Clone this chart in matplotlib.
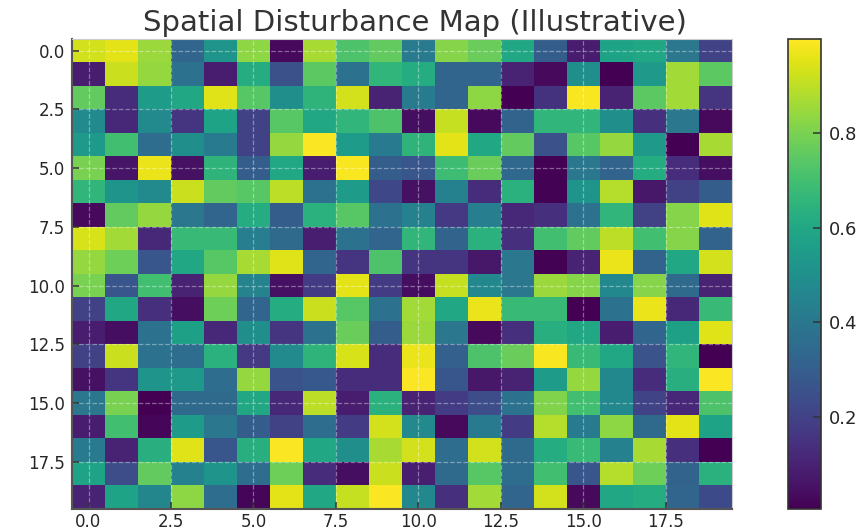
import matplotlib
matplotlib.use("Agg")
import matplotlib.pyplot as plt
import numpy as np

title = "Spatial Disturbance Map (Illustrative)"
row00 = [.93,.96,.85,.33,.52,.83,.03,.87,.72,.76,.42,.82,.77,.60,.30,.08,.58,.60,.40,.20]
row01 = [.08,.92,.84,.38,.08,.62,.25,.75,.38,.66,.62,.33,.33,.10,.03,.50,.00,.54,.86,.75]
row02 = [.76,.13,.55,.60,.95,.74,.50,.65,.93,.10,.42,.33,.83,.00,.15,.99,.10,.75,.86,.16]
row03 = [.48,.12,.48,.16,.58,.20,.74,.60,.66,.72,.04,.91,.03,.32,.66,.66,.50,.14,.40,.03]
row04 = [.54,.70,.36,.50,.42,.20,.84,.995,.55,.42,.65,.96,.60,.76,.25,.74,.84,.54,.00,.87]
row05 = [.80,.06,.97,.05,.65,.30,.60,.08,.99,.30,.27,.69,.77,.34,.01,.40,.32,.62,.13,.04]
row06 = [.66,.52,.48,.92,.76,.74,.90,.38,.55,.22,.05,.44,.13,.64,.01,.52,.89,.07,.20,.30]
row07 = [.03,.76,.84,.40,.33,.62,.30,.64,.74,.38,.44,.17,.43,.12,.14,.38,.66,.20,.82,.95]
row08 = [.94,.86,.12,.68,.68,.43,.35,.09,.38,.33,.66,.32,.64,.14,.70,.76,.90,.70,.82,.32]
row09 = [.84,.78,.27,.60,.74,.87,.95,.33,.16,.72,.16,.16,.07,.40,.01,.10,.97,.32,.60,.93]
row10 = [.80,.27,.70,.10,.84,.45,.05,.18,.96,.18,.04,.91,.47,.40,.85,.82,.47,.82,.35,.10]
row11 = [.20,.60,.14,.04,.78,.33,.62,.92,.74,.38,.86,.60,.97,.68,.68,.00,.38,.97,.12,.68]
row12 = [.08,.04,.38,.57,.12,.50,.16,.38,.77,.30,.85,.40,.03,.14,.63,.60,.08,.33,.57,.95]
row13 = [.20,.92,.38,.36,.64,.17,.48,.65,.94,.13,.97,.31,.72,.77,.99,.68,.60,.26,.66,.00]
row14 = [.05,.16,.52,.54,.36,.84,.26,.28,.13,.13,.995,.27,.07,.10,.55,.84,.47,.13,.63,.995]
row15 = [.40,.80,.00,.35,.35,.60,.12,.90,.08,.64,.10,.18,.24,.38,.81,.70,.47,.21,.12,.72]
row16 = [.08,.70,.02,.55,.40,.30,.20,.36,.18,.93,.48,.03,.42,.18,.89,.42,.83,.35,.96,.58]
row17 = [.42,.10,.63,.95,.27,.63,.995,.60,.50,.87,.93,.36,.93,.35,.62,.68,.44,.87,.14,.00]
row18 = [.58,.24,.76,.44,.52,.36,.78,.13,.04,.92,.09,.35,.74,.36,.70,.27,.89,.78,.32,.64]
row19 = [.10,.58,.46,.83,.36,.02,.96,.60,.91,.995,.47,.14,.86,.33,.93,.03,.60,.62,.33,.23]
rows = [row00,row01,row02,row03,row04,row05,row06,row07,row08,row09,
        row10,row11,row12,row13,row14,row15,row16,row17,row18,row19]
x_ticks = [0, 2.5, 5, 7.5, 10, 12.5, 15, 17.5]
y_ticks = [0, 2.5, 5, 7.5, 10, 12.5, 15, 17.5]
cbar_ticks = [0.2, 0.4, 0.6, 0.8]

W, H = 865, 531
fig = plt.figure(figsize=(W/100, H/100), dpi=100)
def box(x0, y0, x1, y1):
    return [x0/W, 1-y1/H, (x1-x0)/W, (y1-y0)/H]

text_c = "#262626"
ax = fig.add_axes(box(72, 39, 732, 509))
im = ax.imshow(np.array(rows), cmap="viridis", vmin=0.005, vmax=0.999,
               aspect="auto", interpolation="nearest")
ax.set_xticks(x_ticks)
ax.set_yticks(y_ticks)
ax.set_xticklabels([f"{v:.1f}" for v in x_ticks])
ax.set_yticklabels([f"{v:.1f}" for v in y_ticks])
ax.tick_params(labelsize=12, direction="in", length=5, width=1.1, color="#333333",
               labelcolor=text_c)
ax.tick_params(axis="x", pad=3)
ax.tick_params(axis="y", pad=5)
ax.grid(True, color="white", alpha=0.38, linestyle="--", linewidth=0.9)
for s in ("left", "bottom"):
    ax.spines[s].set_color("#555555")
    ax.spines[s].set_linewidth(1.5)
for s in ("top", "right"):
    ax.spines[s].set_color("#cccccc")
    ax.spines[s].set_linewidth(0.8)
fig.text((107+723)/2/W, 1-23/H, title, ha="center", va="center", fontsize=21, color="#333333")

cax = fig.add_axes(box(788, 39, 821, 509))
cb = fig.colorbar(im, cax=cax)
cb.set_ticks(cbar_ticks)
cb.ax.tick_params(labelsize=13, direction="in", length=6, width=1.1, color="#333333",
                  labelcolor=text_c, pad=6)
cb.outline.set_edgecolor("#333333")
cb.outline.set_linewidth(1.2)

fig.savefig("out.png", dpi=100)
